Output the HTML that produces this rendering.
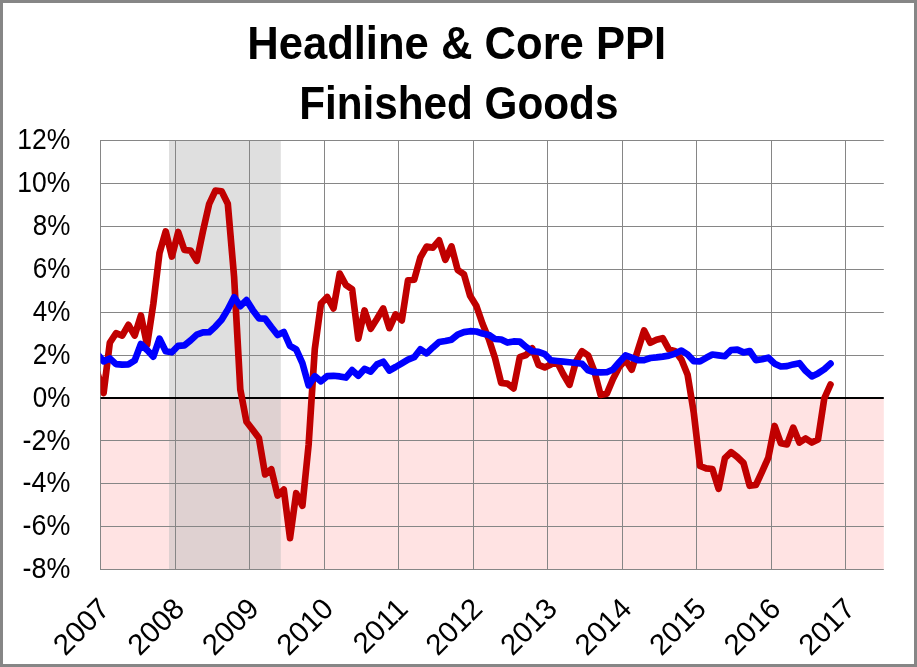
<!DOCTYPE html>
<html lang="en"><head><meta charset="utf-8"><title>Headline &amp; Core PPI Finished Goods</title>
<style>
html,body{margin:0;padding:0;background:#fff}
body{width:917px;height:667px;overflow:hidden}
svg{display:block}
text{font-family:"Liberation Sans",sans-serif;fill:#000}
.t{font-weight:bold;font-size:46.5px;text-anchor:middle}
.yl{font-size:28.6px;text-anchor:end}
.xl{font-size:29.4px;text-anchor:end}
</style></head><body>
<svg width="917" height="667" viewBox="0 0 917 667">
<defs><clipPath id="pc"><rect x="100.5" y="138" width="783" height="434"/></clipPath></defs>
<rect x="0" y="0" width="917" height="667" fill="#fff"/>
<rect x="100.5" y="398" width="783.3" height="172" fill="#FFE3E3"/>
<rect x="169" y="140" width="111.80000000000001" height="430" fill="#BFBFBF" fill-opacity="0.5"/>
<path d="M100.0 140.5H883.8 M100.0 183.5H883.8 M100.0 226.5H883.8 M100.0 269.5H883.8 M100.0 312.5H883.8 M100.0 355.5H883.8 M100.0 440.5H883.8 M100.0 483.5H883.8 M100.0 526.5H883.8 M100.0 569.5H883.8 M100.5 140V570 M175.5 140V570 M249.5 140V570 M324.5 140V570 M398.5 140V570 M473.5 140V570 M547.5 140V570 M622.5 140V570 M696.5 140V570 M771.5 140V570 M845.5 140V570" stroke="#868686" stroke-width="1" fill="none"/>
<path d="M100.5 398H883.8" stroke="#000" stroke-width="1.8" fill="none"/>
<g clip-path="url(#pc)" fill="none" stroke-width="6.67" stroke-linejoin="round" stroke-linecap="round">
<polyline stroke="#C00000" points="97.4,373.0 103.6,393.0 109.8,342.8 116.0,333.2 122.2,335.6 128.4,324.8 134.7,335.6 140.9,315.4 147.1,345.1 153.3,304.0 159.5,253.0 165.7,231.4 171.9,256.6 178.2,232.0 184.4,250.0 190.6,250.6 196.8,260.8 203.0,231.0 209.2,203.8 215.4,190.6 221.6,191.2 227.8,203.8 234.1,277.0 240.3,389.5 246.5,421.8 252.7,429.8 258.9,438.0 265.1,474.4 271.3,469.2 277.6,495.6 283.8,489.6 290.0,538.2 296.2,493.2 302.4,505.8 308.6,445.0 314.8,349.0 321.0,303.5 327.2,297.0 333.5,308.4 339.7,273.6 345.9,285.0 352.1,289.2 358.3,338.6 364.5,310.4 370.7,328.8 377.0,318.8 383.2,308.4 389.4,328.2 395.6,314.4 401.8,320.4 408.0,280.3 414.2,279.6 420.4,257.4 426.6,246.6 432.9,247.6 439.1,240.4 445.3,259.8 451.5,246.4 457.7,270.0 463.9,274.2 470.1,295.8 476.4,306.0 482.6,324.0 488.8,339.0 495.0,358.0 501.2,383.0 507.4,383.6 513.6,388.4 519.8,357.2 526.1,355.0 532.3,348.4 538.5,364.8 544.7,367.4 550.9,364.4 557.1,362.0 563.3,374.2 569.5,384.8 575.8,362.0 582.0,351.2 588.2,355.4 594.4,371.5 600.6,395.0 606.8,393.8 613.0,379.0 619.2,367.0 625.5,360.0 631.7,369.8 637.9,350.0 644.1,330.5 650.3,342.8 656.5,339.8 662.7,338.2 668.9,349.4 675.2,351.2 681.4,359.5 687.6,374.7 693.8,413.0 700.0,466.0 706.2,468.4 712.4,469.0 718.6,488.8 724.9,458.2 731.1,452.2 737.3,457.0 743.5,463.0 749.7,485.8 755.9,485.0 762.1,471.7 768.3,457.6 774.6,426.0 780.8,443.2 787.0,444.4 793.2,427.6 799.4,442.6 805.6,438.4 811.8,442.6 818.0,439.6 824.3,398.3 830.5,384.5"/>
<polyline stroke="#0000FF" points="97.4,354.0 103.6,361.4 109.8,358.4 116.0,364.1 122.2,364.6 128.4,364.4 134.7,360.5 140.9,344.0 147.1,350.0 153.3,356.6 159.5,338.6 165.7,351.2 171.9,352.3 178.2,345.8 184.4,345.4 190.6,340.4 196.8,334.6 203.0,332.4 209.2,332.2 215.4,326.6 221.6,319.8 227.8,309.6 234.1,297.2 240.3,306.2 246.5,300.1 252.7,309.9 258.9,318.3 265.1,318.7 271.3,327.0 277.6,335.0 283.8,332.0 290.0,345.8 296.2,349.4 302.4,363.2 308.6,385.4 314.8,376.2 321.0,381.3 327.2,376.1 333.5,375.8 339.7,376.4 345.9,377.6 352.1,370.1 358.3,375.8 364.5,368.9 370.7,371.6 377.0,364.4 383.2,361.7 389.4,370.5 395.6,367.0 401.8,363.3 408.0,359.6 414.2,357.2 420.4,349.2 426.6,353.4 432.9,347.4 439.1,342.0 445.3,341.0 451.5,339.7 457.7,334.6 463.9,332.1 470.1,331.2 476.4,331.5 482.6,333.6 488.8,334.9 495.0,339.0 501.2,339.5 507.4,342.6 513.6,341.4 519.8,341.6 526.1,347.0 532.3,351.3 538.5,351.8 544.7,354.2 550.9,360.3 557.1,361.0 563.3,361.6 569.5,362.2 575.8,363.0 582.0,363.8 588.2,370.4 594.4,372.2 600.6,372.4 606.8,372.2 613.0,369.5 619.2,362.3 625.5,355.4 631.7,357.6 637.9,360.2 644.1,360.1 650.3,358.0 656.5,357.4 662.7,356.6 668.9,355.6 675.2,353.6 681.4,350.5 687.6,354.5 693.8,361.1 700.0,361.3 706.2,357.8 712.4,354.5 718.6,355.4 724.9,356.2 731.1,350.0 737.3,349.6 743.5,352.4 749.7,351.0 755.9,360.1 762.1,359.2 768.3,357.7 774.6,363.7 780.8,366.5 787.0,366.1 793.2,364.4 799.4,363.2 805.6,370.8 811.8,376.4 818.0,373.4 824.3,369.3 830.5,363.6"/>
</g>
<text class="t" x="456.7" y="59.2" textLength="419" lengthAdjust="spacingAndGlyphs">Headline &amp; Core PPI</text>
<text class="t" x="458.8" y="119.3" textLength="319.3" lengthAdjust="spacingAndGlyphs">Finished Goods</text>
<text class="yl" x="70.3" y="149.2" textLength="53.0" lengthAdjust="spacingAndGlyphs">12%</text>
<text class="yl" x="70.3" y="192.1" textLength="53.0" lengthAdjust="spacingAndGlyphs">10%</text>
<text class="yl" x="70.3" y="235.0" textLength="37.6" lengthAdjust="spacingAndGlyphs">8%</text>
<text class="yl" x="70.3" y="277.9" textLength="37.6" lengthAdjust="spacingAndGlyphs">6%</text>
<text class="yl" x="70.3" y="320.8" textLength="37.6" lengthAdjust="spacingAndGlyphs">4%</text>
<text class="yl" x="70.3" y="363.7" textLength="37.6" lengthAdjust="spacingAndGlyphs">2%</text>
<text class="yl" x="70.3" y="406.6" textLength="37.6" lengthAdjust="spacingAndGlyphs">0%</text>
<text class="yl" x="70.3" y="449.5" textLength="47.8" lengthAdjust="spacingAndGlyphs">-2%</text>
<text class="yl" x="70.3" y="492.4" textLength="47.8" lengthAdjust="spacingAndGlyphs">-4%</text>
<text class="yl" x="70.3" y="535.3" textLength="47.8" lengthAdjust="spacingAndGlyphs">-6%</text>
<text class="yl" x="70.3" y="578.2" textLength="47.8" lengthAdjust="spacingAndGlyphs">-8%</text>
<text class="xl" transform="translate(111.4,610.4) rotate(-45)">2007</text>
<text class="xl" transform="translate(186.0,610.4) rotate(-45)">2008</text>
<text class="xl" transform="translate(260.5,610.4) rotate(-45)">2009</text>
<text class="xl" transform="translate(335.0,610.4) rotate(-45)">2010</text>
<text class="xl" transform="translate(409.6,610.4) rotate(-45)">2011</text>
<text class="xl" transform="translate(484.1,610.4) rotate(-45)">2012</text>
<text class="xl" transform="translate(558.7,610.4) rotate(-45)">2013</text>
<text class="xl" transform="translate(633.2,610.4) rotate(-45)">2014</text>
<text class="xl" transform="translate(707.8,610.4) rotate(-45)">2015</text>
<text class="xl" transform="translate(782.3,610.4) rotate(-45)">2016</text>
<text class="xl" transform="translate(856.9,610.4) rotate(-45)">2017</text>
<rect x="1.5" y="1.5" width="914" height="664" fill="none" stroke="#868686" stroke-width="3"/>
</svg></body></html>
